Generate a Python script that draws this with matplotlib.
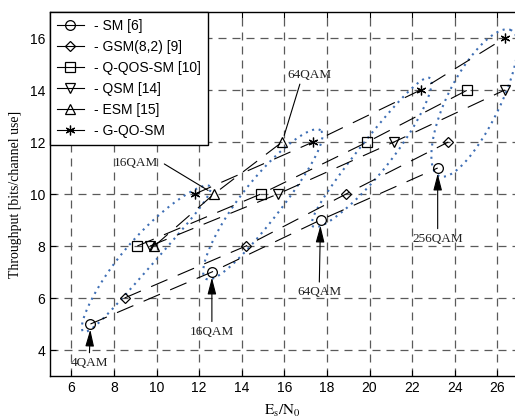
import numpy as np
import matplotlib.pyplot as plt
from matplotlib.lines import Line2D

# throughput [bits/channel use] vs Es/N0
sm_x = [6.9, 12.6, 17.7, 23.2]
sm_y = [5, 7, 9, 11]
gsm_x = [8.5, 14.2, 18.9, 23.7]
gsm_y = [6, 8, 10, 12]
qqos_x = [9.1, 14.9, 19.9, 24.6]
qqos_y = [8, 10, 12, 14]
qsm_x = [9.7, 15.7, 21.15, 26.35]
qsm_y = [8, 10, 12, 14]
esm_x = [9.9, 12.7, 15.9]
esm_y = [8, 10, 12]
gqo_x = [11.8, 17.35, 22.4, 26.35]
gqo_y = [10, 12, 14, 16]

series_x = [sm_x, gsm_x, qqos_x, qsm_x, esm_x, gqo_x]
series_y = [sm_y, gsm_y, qqos_y, qsm_y, esm_y, gqo_y]
labels = ['- SM [6]', '- GSM(8,2) [9]', '- Q-QOS-SM [10]', '- QSM [14]', '- ESM [15]', '- G-QO-SM']
markers = ['o', 'D', 's', 'v', '^', (6, 2, 0)]
msizes = [7, 5.5, 6.5, 7, 7, 7]

mod_names = ['4QAM', '16QAM', '64QAM', '256QAM']

# dotted loops around each modulation group: lower tip, upper tip, half width and bend (px)
loop_lo = [(6.55, 4.72), (12.3, 6.75), (17.35, 8.75), (23.25, 10.7)]
loop_hi = [(12.5, 10.3), (17.7, 12.45), (22.85, 14.45), (26.65, 16.3)]
loop_hw = [15, 20, 16, 26]
loop_bend = [7, 3, -4, 2]

serif = 'Liberation Serif'
sans = 'Liberation Sans'
plt.rcParams['mathtext.fontset'] = 'stix'

fig = plt.figure(figsize=(5.15, 4.2), dpi=100)
ax = fig.add_axes([50 / 515, 1 - 376 / 420, 1 - 50 / 515, 364 / 420])
ax.set_xlim(5, 26.83)
ax.set_ylim(3, 17)
ax.set_xticks(np.arange(6, 27, 2))
ax.set_yticks(np.arange(4, 17, 2))
ax.tick_params(direction='in', length=4, labelsize=10, width=0.8, top=True)
for lab in ax.get_xticklabels() + ax.get_yticklabels():
    lab.set_fontfamily(sans)
ax.grid(True, ls=(0, (6.4, 4.8)), color='#5a5a5a', lw=0.9)
ax.set_axisbelow(True)
ax.spines['right'].set_visible(False)
for s in ['left', 'bottom', 'top']:
    ax.spines[s].set_linewidth(1.0)

handles = []
for xs, ys, m, ms, lab in zip(series_x, series_y, markers, msizes, labels):
    ax.plot(xs, ys, color='k', lw=0.8, ls=(0, (16, 10)), marker=m, ms=ms,
            mfc='none', mec='k', mew=0.9, zorder=3)
    handles.append(Line2D([], [], color='k', lw=0.8, marker=m, ms=ms,
                          mfc='none', mec='k', mew=0.9, label=lab))

# loops drawn as slightly bent ellipses in pixel space
t = np.linspace(0, 2 * np.pi, 240)
for lo, hi, hw, bend in zip(loop_lo, loop_hi, loop_hw, loop_bend):
    p0 = ax.transData.transform(lo)
    p1 = ax.transData.transform(hi)
    c = (p0 + p1) / 2
    d = p1 - p0
    a = np.hypot(*d) / 2
    u = d / (2 * a)
    n = np.array([-u[1], u[0]])
    s = np.cos(t)
    off = hw * np.sin(t) + bend * (1 - s ** 2)
    pts = c + np.outer(a * s, u) + np.outer(off, n)
    dat = ax.transData.inverted().transform(pts)
    ax.plot(dat[:, 0], dat[:, 1], ls=(0, (1, 2.2)), color='#3f6fb5', lw=1.5, zorder=2)

# arrows under the SM points
arrow_kw = dict(arrowstyle='-|>,head_length=0.85,head_width=0.22', color='k',
                lw=0.8, mutation_scale=12, shrinkA=1, shrinkB=4)
sm_offsets = [(-1, -28), (0, -43), (-1, -52), (0, -51)]
for xv, yv, name, off in zip(sm_x, sm_y, mod_names, sm_offsets):
    ax.annotate(name, xy=(xv, yv), xytext=off, textcoords='offset points',
                ha='center', va='center', fontsize=9.5, family=serif, color='#222',
                arrowprops=arrow_kw)

# labels on the ESM points
line_kw = dict(arrowstyle='-', color='k', lw=0.8, shrinkA=0, shrinkB=5)
ax.annotate(mod_names[1], xy=(esm_x[1], esm_y[1]), xytext=(-56.5, 22.5),
            textcoords='offset points', ha='center', va='center', fontsize=9.5,
            family=serif, color='#222',
            arrowprops=dict(line_kw, relpos=(1.15, 0.4)))
ax.annotate(mod_names[2], xy=(esm_x[2], esm_y[2]), xytext=(19.7, 48),
            textcoords='offset points', ha='center', va='center', fontsize=9.5,
            family=serif, color='#222',
            arrowprops=dict(line_kw, relpos=(0.3, 0.0)))

leg = ax.legend(handles=handles, loc='upper left', borderaxespad=0,
                prop={'family': sans, 'size': 10}, fancybox=False,
                edgecolor='k', framealpha=1, handlelength=1.95,
                handletextpad=0.7, labelspacing=0.5, borderpad=0.5)
leg.get_frame().set_linewidth(1.0)
leg.set_zorder(5)

ax.set_ylabel('Throughput [bits/channel use]', family=serif, fontsize=10)
ax.set_xlabel(r'$\mathrm{E_s/N_0}$', fontsize=11)
ax.yaxis.set_label_coords(-0.06, 0.5)
ax.xaxis.set_label_coords(0.5, -0.075)

fig.savefig('out.png', dpi=100)
